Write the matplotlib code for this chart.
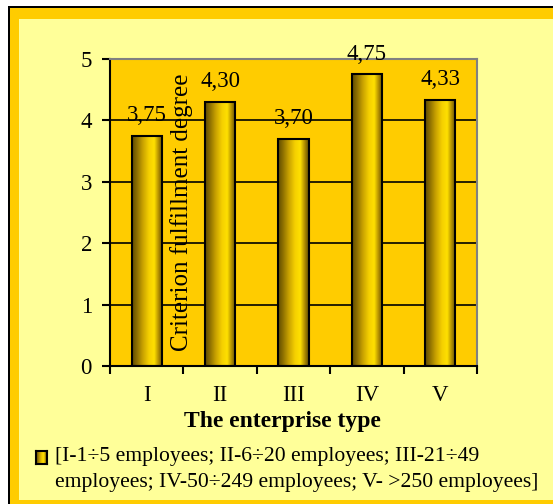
import numpy as np
import matplotlib
matplotlib.use("Agg")
import matplotlib.pyplot as plt
from matplotlib.colors import LinearSegmentedColormap
from matplotlib.patches import Rectangle

categories = ["I", "II", "III", "IV", "V"]
values = [3.75, 4.30, 3.70, 4.75, 4.33]
y_ticks = [0, 1, 2, 3, 4, 5]
x_label = "The enterprise type"
y_label = "Criterion fulfillment degree"
legend_text = ("[I-1\u00f75 employees; II-6\u00f720 employees; III-21\u00f749\n"
               "employees; IV-50\u00f7249 employees; V- >250 employees]")

W, H = 553, 504
plt.rcParams['font.family'] = ['Liberation Serif', 'DejaVu Serif']
fig = plt.figure(figsize=(W / 100, H / 100), dpi=100)
fig.patch.set_facecolor('white')

def px_rect(x0, y0, x1, y1, color, z):
    fig.patches.append(Rectangle((x0 / W, 1 - y1 / H), (x1 - x0) / W, (y1 - y0) / H,
                                 transform=fig.transFigure, facecolor=color,
                                 edgecolor='none', zorder=z))

px_rect(8, 6, 600, 600, '#000000', -10)
px_rect(10, 8, 600, 600, '#FFCC00', -9)
px_rect(19, 19, 600, 500, '#FFFF99', -8)

cmap = LinearSegmentedColormap.from_list(
    'cyl', [(0.0, '#5e4a00'), (0.15, '#8a6d00'), (0.35, '#c9a200'),
            (0.55, '#f5d000'), (0.72, '#ffe000'), (0.85, '#b89400'),
            (1.0, '#5e4a00')])
grad = np.linspace(0, 1, 256).reshape(1, -1)

ax_l, ax_r, ax_t, ax_b = 110, 477, 59, 366
ax = fig.add_axes([ax_l / W, 1 - ax_b / H, (ax_r - ax_l) / W, (ax_b - ax_t) / H])
ax.set_facecolor('#FFCC00')

x = np.arange(len(categories))
bars = ax.bar(x, values, width=0.41, color='none', edgecolor='black', linewidth=1.5, zorder=4)
for rect in bars:
    x0, w, h = rect.get_x(), rect.get_width(), rect.get_height()
    ax.imshow(grad, extent=[x0, x0 + w, 0, h], aspect='auto', cmap=cmap, zorder=3,
              interpolation='bilinear')

ax.set_xlim(-0.5, len(categories) - 0.5)
ax.set_ylim(0, 5)
for v in y_ticks[1:-1]:
    ax.axhline(v, color='black', linewidth=1.2, zorder=2)

for xi, v in zip(x, values):
    ax.annotate(f"{v:.2f}".replace('.', ','), (xi, v), xytext=(0, 7),
                textcoords='offset points', ha='center', va='bottom',
                fontsize=16.5, clip_on=False, annotation_clip=False, zorder=6)

ax.set_yticks(y_ticks)
ax.set_yticklabels([str(t) for t in y_ticks], fontsize=16.5)
ax.tick_params(axis='y', length=6, width=1.5, pad=7, direction='out', colors='black')
ax.set_xticks(x)
ax.set_xticklabels(categories, fontsize=16.5)
ax.set_xticks(np.arange(-0.5, len(categories)), minor=True)
ax.tick_params(axis='x', which='major', length=0, pad=14)
ax.tick_params(axis='x', which='minor', length=6, width=1.5, direction='out')

for s in ['left', 'bottom']:
    ax.spines[s].set_color('black')
    ax.spines[s].set_linewidth(1.5)
for s in ['top', 'right']:
    ax.spines[s].set_color('#808080')
    ax.spines[s].set_linewidth(1.5)
for s in ax.spines.values():
    s.set_zorder(5)

fig.text(282 / W, 1 - 421 / H, x_label, ha='center', va='center',
         fontsize=17, fontweight='bold')
fig.text(182 / W, 1 - 212 / H, y_label, ha='center', va='center',
         rotation=90, fontsize=18, zorder=10)

# legend marker
lax = fig.add_axes([36 / W, 1 - 464 / H, 11 / W, 13 / H])
lax.imshow(grad, aspect='auto', cmap=cmap, interpolation='bilinear')
lax.set_xticks([]); lax.set_yticks([])
for s in lax.spines.values():
    s.set_linewidth(1.5)
    s.set_color('black')

fig.text(55 / W, 1 - 447 / H, legend_text, ha='left', va='top', fontsize=15.6,
         linespacing=1.5)

fig.savefig('out.png', dpi=100)
